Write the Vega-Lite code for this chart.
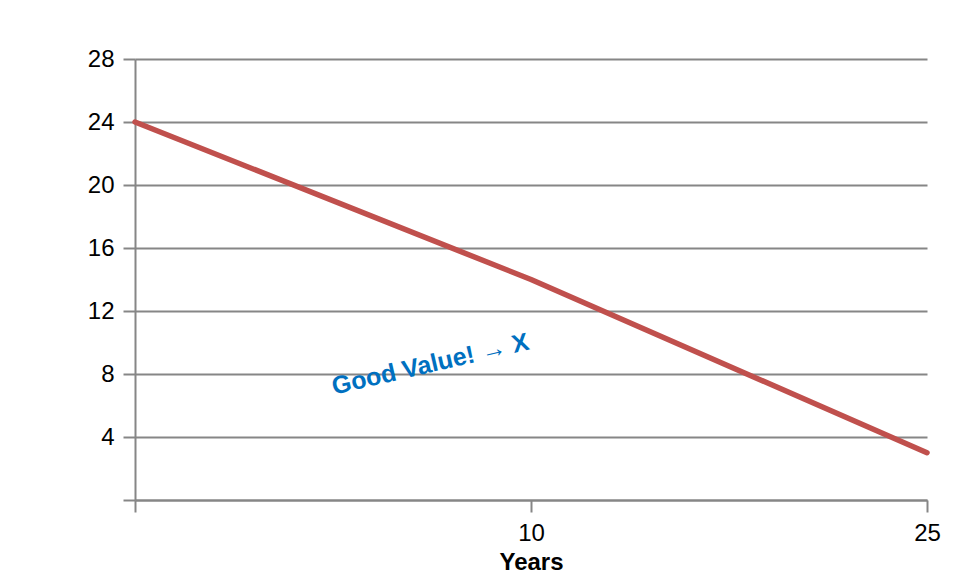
{
  "$schema": "https://vega.github.io/schema/vega-lite/v6.json",
  "width": 792,
  "height": 441,
  "autosize": "none",
  "padding": {"left": 135, "top": 59, "right": 26, "bottom": 78},
  "background": "white",
  "config": {
    "view": {"stroke": null},
    "font": "Liberation Sans"
  },
  "layer": [
    {
      "data": {"values": [
        {"year": "0", "value": 24},
        {"year": "10", "value": 14},
        {"year": "25", "value": 3}
      ]},
      "mark": {"type": "line", "color": "#C0504D", "strokeWidth": 5.5, "strokeCap": "round", "strokeJoin": "round"},
      "encoding": {
        "x": {
          "field": "year", "type": "ordinal", "sort": null,
          "scale": {"type": "point", "padding": 0},
          "axis": {
            "title": "Years", "titleFont": "Liberation Sans", "titleFontSize": 24, "titleFontWeight": "bold", "titleColor": "black", "titlePadding": 5,
            "labelExpr": "datum.value == '0' ? '' : datum.label",
            "labelFontSize": 24, "labelColor": "black", "labelAngle": 0, "labelPadding": 9, "labelFont": "Liberation Sans",
            "domainColor": "#868686", "domainWidth": 2,
            "tickColor": "#868686", "tickWidth": 2, "tickSize": 12,
            "grid": false
          }
        },
        "y": {
          "field": "value", "type": "quantitative",
          "scale": {"domain": [0, 28], "nice": false},
          "axis": {
            "title": null, "values": [0, 4, 8, 12, 16, 20, 24, 28],
            "labelExpr": "datum.value == 0 ? '' : datum.label",
            "labelFontSize": 24, "labelColor": "black", "labelPadding": 9, "labelFont": "Liberation Sans",
            "domainColor": "#868686", "domainWidth": 2,
            "tickColor": "#868686", "tickWidth": 2, "tickSize": 12,
            "grid": true, "gridColor": "#868686", "gridWidth": 2
          }
        }
      }
    },
    {
      "data": {"values": [
        {"label": "Good Value! → X", "year": "10", "value": 8.6}
      ]},
      "mark": {"type": "text", "color": "#0070C0", "fontWeight": "bold", "fontSize": 25, "angle": 347, "align": "center", "baseline": "middle", "dx": -98, "dy": -23, "font": "Liberation Sans"},
      "encoding": {
        "x": {"field": "year", "type": "ordinal", "sort": null},
        "y": {"field": "value", "type": "quantitative"},
        "text": {"field": "label"}
      }
    }
  ]
}
